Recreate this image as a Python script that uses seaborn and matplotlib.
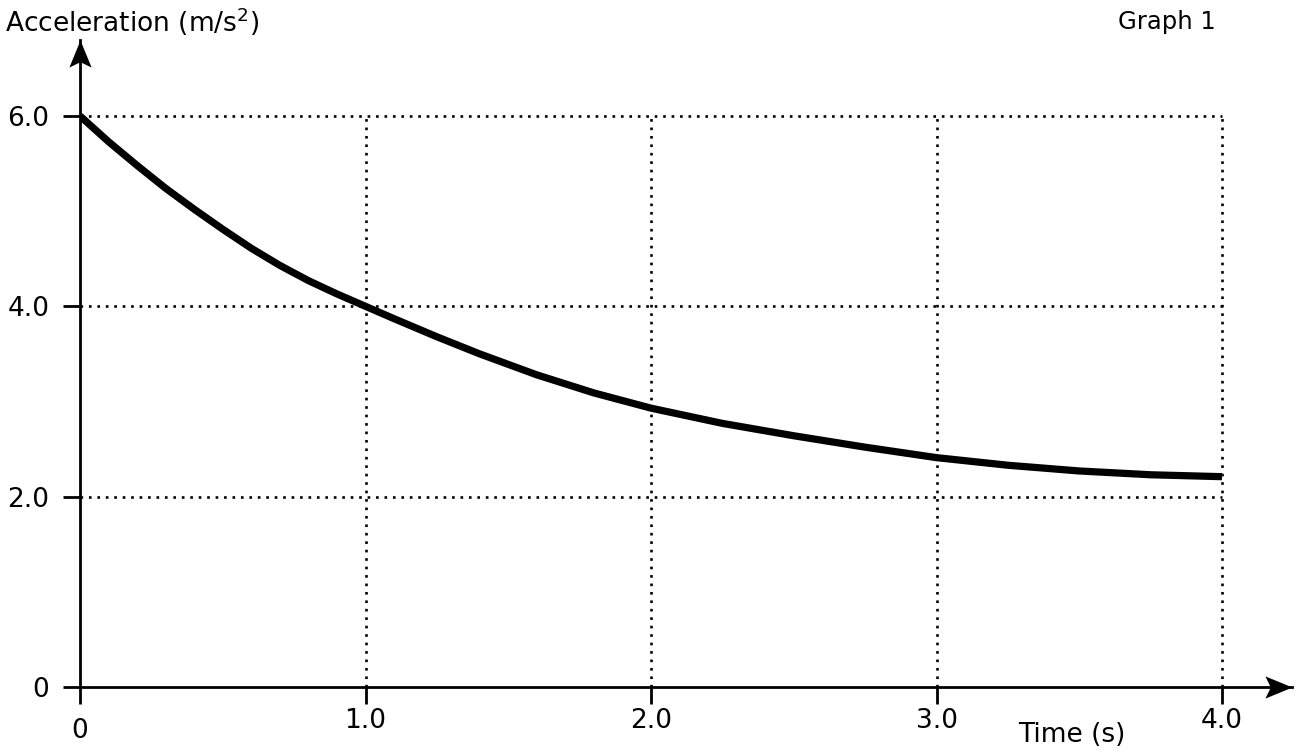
import matplotlib
matplotlib.use("Agg")
import matplotlib.pyplot as plt
from matplotlib.path import Path
import matplotlib.transforms as mtransforms
import seaborn as sns
import pandas as pd

time_s = [0.0, 0.1, 0.2, 0.3, 0.4, 0.5, 0.6, 0.7, 0.8, 0.9, 1.0, 1.1, 1.25, 1.4, 1.6, 1.8,
          2.0, 2.25, 2.5, 2.75, 3.0, 3.25, 3.5, 3.75, 4.0]
accel = [6.0, 5.73, 5.48, 5.24, 5.02, 4.81, 4.61, 4.43, 4.27, 4.13, 4.0, 3.87, 3.68, 3.50, 3.28, 3.09,
         2.93, 2.77, 2.64, 2.52, 2.41, 2.33, 2.27, 2.23, 2.21]
x_ticks = [0, 1, 2, 3, 4]
x_tick_labels = ["0", "1.0", "2.0", "3.0", "4.0"]
y_ticks = [0, 2, 4, 6]
y_tick_labels = ["0", "2.0", "4.0", "6.0"]

sns.set_style("white")
plt.rcParams['font.family'] = ['DejaVu Sans']
plt.rcParams['text.color'] = 'black'
plt.rcParams['xtick.color'] = 'black'
plt.rcParams['ytick.color'] = 'black'

W, H = 1300, 753
fig = plt.figure(figsize=(W / 100, H / 100), dpi=100)
left, right = 80 / W, 1292 / W
bottom, top = 1 - 687 / H, 1 - 40 / H
ax = fig.add_axes([left, bottom, right - left, top - bottom])

xmax = 4.0 + (1292 - 1222) / 285.5
ymax = 6.0 + (116 - 40) / 95.2
ax.set_xlim(0, xmax)
ax.set_ylim(0, ymax)

# dotted grid box
for yv in y_ticks[1:]:
    ax.hlines(yv, 0, 4, colors="black", linestyles=(0, (1, 2.2)), linewidth=1.9, zorder=1)
for xv in x_ticks[1:]:
    ax.vlines(xv, 0, 6, colors="black", linestyles=(0, (1, 2.2)), linewidth=1.9, zorder=1)

df = pd.DataFrame({"Time": time_s, "Acceleration": accel})
sns.lineplot(data=df, x="Time", y="Acceleration", ax=ax, color="black", linewidth=5.2,
             zorder=3, solid_joinstyle="round", solid_capstyle="butt")

for s in ["top", "right"]:
    ax.spines[s].set_visible(False)
for s in ["left", "bottom"]:
    ax.spines[s].set_linewidth(2.0)
    ax.spines[s].set_color("black")
    ax.spines[s].set_zorder(4)

# stealth arrowheads
right_head = Path([(0, 0), (-1, 0.41), (-0.8, 0), (-1, -0.41), (0, 0)],
                  [Path.MOVETO, Path.LINETO, Path.LINETO, Path.LINETO, Path.CLOSEPOLY])
up_head = Path([(0, 0), (0.41, -1), (0, -0.8), (-0.41, -1), (0, 0)],
               [Path.MOVETO, Path.LINETO, Path.LINETO, Path.LINETO, Path.CLOSEPOLY])
ax.plot([1.0], [0.0], marker=right_head, markersize=39, color="black", mew=0,
        transform=ax.transAxes, clip_on=False, zorder=5)
ax.plot([0.0], [1.0], marker=up_head, markersize=39, color="black", mew=0,
        transform=ax.transAxes, clip_on=False, zorder=5)

ax.set_xticks(x_ticks)
ax.set_xticklabels(x_tick_labels)
ax.set_yticks(y_ticks)
ax.set_yticklabels(y_tick_labels)
ax.tick_params(axis="both", direction="out", length=12, width=2.0, color="black",
               labelsize=19, labelcolor="black", bottom=True, left=True)
ax.tick_params(axis="y", pad=10)
ax.tick_params(axis="x", pad=3)
ax.set_xlabel("")
ax.set_ylabel("")

# the x-axis "0" sits a little lower in the reference
lbl0 = ax.get_xticklabels()[0]
lbl0.set_transform(lbl0.get_transform() + mtransforms.ScaledTranslation(0, -10 / 100, fig.dpi_scale_trans))

fig.text(5 / W, 1 - 22 / H, "Acceleration (m/s$^2$)", ha="left", va="center", fontsize=19)
fig.text(1216 / W, 1 - 22 / H, "Graph 1", ha="right", va="center", fontsize=17.5)
fig.text(1072 / W, 1 - 735 / H, "Time (s)", ha="center", va="center", fontsize=19)

fig.savefig("out.png", dpi=100, facecolor="white")
